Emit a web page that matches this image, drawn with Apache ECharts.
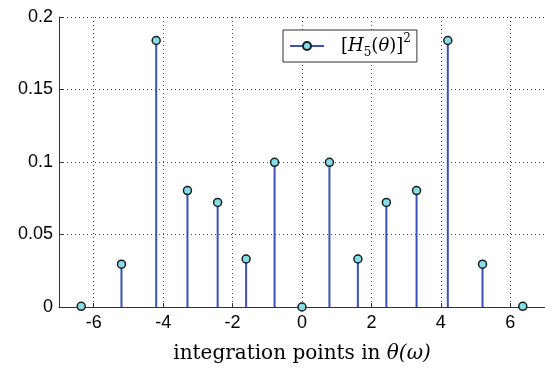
<!DOCTYPE html>
<html>
<head>
<meta charset="utf-8">
<script src="https://cdn.jsdelivr.net/npm/echarts@6/dist/echarts.min.js"></script>
<style>html,body{margin:0;padding:0;background:#fff;}#c{width:545px;height:369px;}</style>
</head>
<body>
<div id="c"></div>
<script>
const xVals = [-6.36, -5.2, -4.2, -3.3, -2.43, -1.61, -0.79, 0, 0.79, 1.61, 2.43, 3.3, 4.2, 5.2, 6.36];
const yVals = [0.0005, 0.0295, 0.1838, 0.0803, 0.0721, 0.0331, 0.0998, 0, 0.0998, 0.0331, 0.0721, 0.0803, 0.1838, 0.0295, 0.0005];
const xTicks = [-6, -4, -2, 0, 2, 4, 6];
const yTicks = [0, 0.05, 0.1, 0.15, 0.2];
const seriesName = '[H5(θ)]^2';
const xTitleText = 'integration points in ';
const xTitleMath = 'θ(ω)';

const stemColor = '#3d4fb6';
const markerFill = '#86dde6';
const markerEdge = '#1c1c1c';
const pts = xVals.map((x, i) => [x, yVals[i]]);

const chart = echarts.init(document.getElementById('c'));
chart.setOption({
  animation: false,
  backgroundColor: '#fff',
  grid: { left: 59, top: 17, right: 0, bottom: 60 },
  legend: {
    left: 283, top: 30,
    padding: [3, 6, 3, 6],
    borderColor: '#333', borderWidth: 1,
    backgroundColor: '#fff',
    itemWidth: 34, itemHeight: 10, itemGap: 4,
    data: [seriesName],
    formatter: () => '{b|[}{i|H}{sub|5}{b|(}{i|θ}{b|)]}{sup|2}',
    textStyle: {
      padding: [0, 0, 0, 12],
      rich: {
        b: { fontFamily: 'DejaVu Serif', fontSize: 18, color: '#000', lineHeight: 26, verticalAlign: 'middle' },
        i: { fontFamily: 'DejaVu Serif', fontStyle: 'italic', fontSize: 18, color: '#000', lineHeight: 26, verticalAlign: 'middle' },
        sub: { fontFamily: 'DejaVu Serif', fontSize: 12, color: '#000', lineHeight: 26, verticalAlign: 'bottom' },
        sup: { fontFamily: 'DejaVu Serif', fontSize: 12, color: '#000', lineHeight: 26, verticalAlign: 'top' }
      }
    }
  },
  xAxis: {
    type: 'value', min: -7, max: 7,
    axisLine: { show: true, onZero: false, lineStyle: { color: '#333', width: 1 } },
    axisTick: { show: true, inside: true, length: 4, customValues: xTicks, lineStyle: { color: '#333' } },
    axisLabel: { customValues: xTicks, fontFamily: 'Liberation Sans', fontSize: 18, color: '#000', margin: 7 },
    splitLine: { show: true, lineStyle: { color: '#444', type: [1, 3], width: 1 } },
    name: '{r|' + xTitleText + '}{i|' + xTitleMath + '}',
    nameLocation: 'middle', nameGap: 37,
    nameTextStyle: {
      rich: {
        r: { fontFamily: 'DejaVu Serif', fontSize: 20, color: '#000' },
        i: { fontFamily: 'DejaVu Serif', fontStyle: 'italic', fontSize: 20, color: '#000' }
      }
    }
  },
  yAxis: {
    type: 'value', min: 0, max: 0.2, interval: 0.05,
    axisLine: { show: true, onZero: false, lineStyle: { color: '#333', width: 1 } },
    axisTick: { show: true, inside: true, length: 4, lineStyle: { color: '#333' } },
    axisLabel: { fontFamily: 'Liberation Sans', fontSize: 18, color: '#000', margin: 6 },
    splitLine: { show: true, lineStyle: { color: '#444', type: [1, 3], width: 1 } }
  },
  series: [
    {
      type: 'custom',
      data: pts,
      silent: true,
      renderItem: (params, api) => {
        const x = api.value(0), y = api.value(1);
        const p0 = api.coord([x, 0]);
        const p1 = api.coord([x, y]);
        return { type: 'line', shape: { x1: p0[0], y1: p0[1], x2: p1[0], y2: p1[1] }, style: { stroke: stemColor, lineWidth: 2 } };
      }
    },
    {
      type: 'scatter',
      data: pts,
      symbol: 'circle', symbolSize: 8,
      itemStyle: { color: markerFill, borderColor: markerEdge, borderWidth: 1.5, opacity: 1 },
      z: 5
    },
    {
      name: seriesName,
      type: 'line',
      data: [],
      symbol: 'circle', symbolSize: 8,
      lineStyle: { color: stemColor, width: 1.5 },
      itemStyle: { color: markerFill, borderColor: markerEdge, borderWidth: 1.5 }
    }
  ]
});
</script>
</body>
</html>
